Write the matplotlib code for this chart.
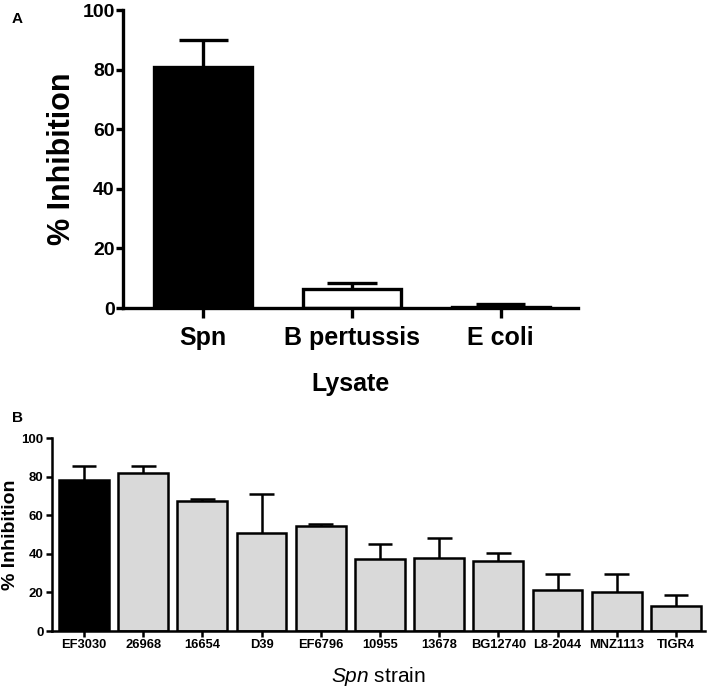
import matplotlib
matplotlib.use("Agg")
import matplotlib.pyplot as plt
import numpy as np

# Panel A: lysate comparison
lysates = ["Spn", "B pertussis", "E coli"]
lysate_inhib = [80.9, 6.4, 0.3]
lysate_err = [9.1, 2.1, 1.0]
lysate_colors = ["black", "white", "white"]

# Panel B: Spn strains
strains = ["EF3030", "26968", "16654", "D39", "EF6796", "10955",
           "13678", "BG12740", "L8-2044", "MNZ1113", "TIGR4"]
strain_inhib = [78.3, 82.1, 67.2, 51.0, 54.6, 37.3, 37.6, 36.2, 21.1, 20.1, 12.8]
strain_err = [7.0, 3.5, 1.1, 20.2, 0.9, 7.6, 10.8, 4.2, 8.2, 9.5, 5.9]
strain_colors = ["black"] + ["#d9d9d9"] * 10

yticks = [0, 20, 40, 60, 80, 100]

plt.rcParams["font.family"] = ["Liberation Sans", "DejaVu Sans"]
plt.rcParams["mathtext.fontset"] = "custom"
plt.rcParams["mathtext.it"] = "Liberation Sans:italic"
plt.rcParams["mathtext.rm"] = "Liberation Sans"

fig = plt.figure(figsize=(7.08, 6.90), dpi=100)


def upper_err(ax, x, vals, err, half, lw):
    x = np.asarray(x, dtype=float)
    top = np.asarray(vals) + np.asarray(err)
    ax.vlines(x, vals, top, colors="black", lw=lw, zorder=1)
    ax.hlines(top, x - half, x + half, colors="black", lw=lw, zorder=1)


# ---- Panel A ----
axA = fig.add_axes([0.1737, 0.5536, 0.6427, 0.4319])
xa = np.arange(len(lysates))
wa = 0.66
upper_err(axA, xa, lysate_inhib, lysate_err, wa / 4, 2.4)
axA.bar(xa, lysate_inhib, width=wa, color=lysate_colors, edgecolor="black",
        linewidth=2.4, zorder=2)
axA.set_xlim(-0.54, 2.52)
axA.set_ylim(0, 100)
axA.set_yticks(yticks)
axA.set_xticks(xa)
axA.set_xticklabels(lysates, fontsize=18, fontweight="bold")
for lab in axA.get_yticklabels():
    lab.set_fontsize(14)
    lab.set_fontweight("bold")
axA.set_ylabel("% Inhibition", fontsize=22, fontweight="bold", labelpad=4)
axA.set_xlabel("Lysate", fontsize=18, fontweight="bold", labelpad=16)
for s in ["top", "right"]:
    axA.spines[s].set_visible(False)
for s in ["left", "bottom"]:
    axA.spines[s].set_linewidth(2.4)
axA.tick_params(axis="y", width=2.4, length=5, pad=1)
axA.tick_params(axis="x", width=2.4, length=7, pad=6)
fig.text(0.017, 0.982, "A", fontsize=11, fontweight="bold", va="top")

# ---- Panel B ----
axB = fig.add_axes([0.0734, 0.0855, 0.9223, 0.2797])
xb = np.arange(len(strains))
wb = 0.84
upper_err(axB, xb, strain_inhib, strain_err, wb / 4, 1.8)
axB.bar(xb, strain_inhib, width=wb, color=strain_colors, edgecolor="black",
        linewidth=1.8, zorder=2)
axB.set_xlim(-0.54, 10.49)
axB.set_ylim(0, 100)
axB.set_yticks(yticks)
axB.set_xticks(xb)
axB.set_xticklabels(strains, fontsize=9.3, fontweight="bold")
for lab in axB.get_yticklabels():
    lab.set_fontsize(9.5)
    lab.set_fontweight("bold")
axB.set_ylabel("% Inhibition", fontsize=14, fontweight="bold", labelpad=2)
axB.set_xlabel(r"$\mathit{Spn}$ strain", fontsize=15, labelpad=10)
for s in ["top", "right"]:
    axB.spines[s].set_visible(False)
for s in ["left", "bottom"]:
    axB.spines[s].set_linewidth(1.8)
axB.tick_params(axis="both", width=1.8, length=4, pad=2)
fig.text(0.017, 0.405, "B", fontsize=11, fontweight="bold", va="top")

fig.savefig("out.png", dpi=100)
